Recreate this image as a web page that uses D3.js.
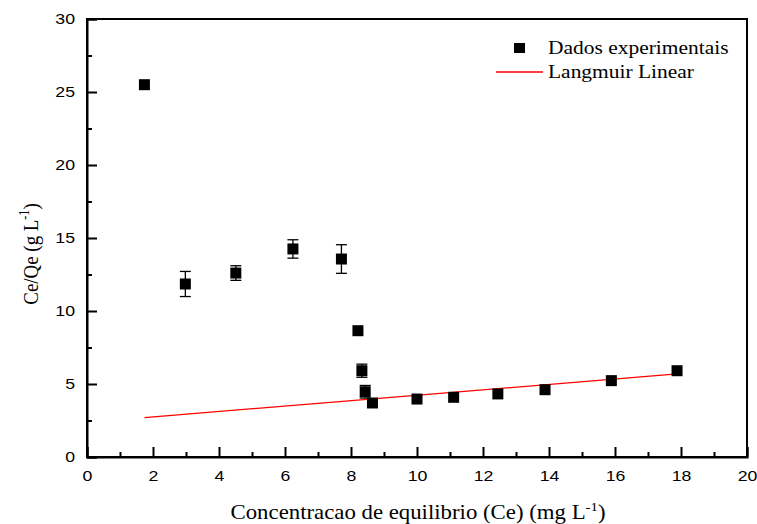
<!DOCTYPE html>
<html>
<head>
<meta charset="utf-8">
<script src="https://cdn.jsdelivr.net/npm/d3@7"></script>
<style>
  body { margin: 0; background: #fff; }
  svg { display: block; }
</style>
</head>
<body>
<div id="chart"></div>
<script>
// experimental points (Ce, Ce/Qe) and error bar half-widths
const ceValues = [1.74, 2.98, 4.51, 6.24, 7.71, 8.21, 8.33, 8.43, 8.65, 10.0, 11.11, 12.45, 13.88, 15.89, 17.88];
const ratioValues = [25.5, 11.85, 12.6, 14.25, 13.56, 8.65, 5.91, 4.47, 3.7, 3.97, 4.09, 4.32, 4.61, 5.23, 5.91];
const errorValues = [0, 0.86, 0.5, 0.63, 0.98, 0, 0.45, 0.43, 0, 0, 0, 0, 0, 0, 0];
// Langmuir linear fit endpoints
const fitX = [1.74, 17.88];
const fitY = [2.70, 5.69];
const xTicks = [0, 2, 4, 6, 8, 10, 12, 14, 16, 18, 20];
const yTicks = [0, 5, 10, 15, 20, 25, 30];

const width = 757, height = 524;
const margin = { left: 87, right: 10, top: 19, bottom: 67 };

const svg = d3.select("#chart").append("svg").attr("width", width).attr("height", height);

const x = d3.scaleLinear().domain([0, 20]).range([margin.left, width - margin.right]);
const y = d3.scaleLinear().domain([0, 30]).range([height - margin.bottom, margin.top]);

const tickFont = "'Liberation Sans', Arial, sans-serif";
const serif = "'Liberation Serif', 'Times New Roman', serif";
const stretch = 1.18; // the source picture is a bit wider than tall

// frame
svg.append("rect")
  .attr("x", x(0)).attr("y", y(30))
  .attr("width", x(20) - x(0)).attr("height", y(0) - y(30))
  .attr("fill", "none").attr("stroke", "#000").attr("stroke-width", 2);

// bottom axis, ticks pointing inward
svg.append("g").attr("class", "xa").attr("transform", `translate(0,${y(0)})`)
  .call(d3.axisBottom(x).tickValues(xTicks).tickSize(-10).tickPadding(13).tickFormat(d3.format("d")));
svg.append("g").attr("transform", `translate(0,${y(0)})`)
  .call(d3.axisBottom(x).tickValues(d3.range(1, 20, 2)).tickSize(-5).tickFormat(""))
  .call(g => g.select(".domain").remove());

svg.append("g").attr("class", "ya").attr("transform", `translate(${x(0)},0)`)
  .call(d3.axisLeft(y).tickValues(yTicks).tickSize(-10).tickPadding(12).tickFormat(d3.format("d")));
svg.append("g").attr("transform", `translate(${x(0)},0)`)
  .call(d3.axisLeft(y).tickValues(d3.range(2.5, 30, 5)).tickSize(-5).tickFormat(""))
  .call(g => g.select(".domain").remove());

svg.selectAll(".domain").attr("stroke-width", 2);
svg.selectAll(".tick line").attr("stroke", "#000").attr("stroke-width", 2);
svg.selectAll(".tick text").attr("font-family", tickFont).attr("font-size", 15).attr("fill", "#000")
  .attr("transform", `scale(${stretch},1)`);
svg.selectAll(".ya .tick text").attr("x", -12 / stretch);

// fitted line
svg.append("line")
  .attr("x1", x(fitX[0])).attr("y1", y(fitY[0]))
  .attr("x2", x(fitX[1])).attr("y2", y(fitY[1]))
  .attr("stroke", "#ff0000").attr("stroke-width", 1.3);

// error bars
const points = ceValues.map((c, i) => ({ x: c, y: ratioValues[i], e: errorValues[i] }));
const eb = svg.append("g").attr("stroke", "#000").attr("stroke-width", 1.3);
points.filter(d => d.e > 0).forEach(d => {
  eb.append("line").attr("x1", x(d.x)).attr("x2", x(d.x)).attr("y1", y(d.y - d.e)).attr("y2", y(d.y + d.e));
  [d.y - d.e, d.y + d.e].forEach(v => {
    eb.append("line").attr("x1", x(d.x) - 5.5).attr("x2", x(d.x) + 5.5).attr("y1", y(v)).attr("y2", y(v));
  });
});

// markers
const s = 11;
svg.append("g").selectAll("rect").data(points).enter().append("rect")
  .attr("x", d => x(d.x) - s / 2).attr("y", d => y(d.y) - s / 2)
  .attr("width", s).attr("height", s).attr("fill", "#000");

// legend
svg.append("rect").attr("x", 514).attr("y", 43).attr("width", 11).attr("height", 10).attr("fill", "#000");
svg.append("text").attr("transform", "translate(548,54) scale(1.13,1)")
  .attr("font-family", serif).attr("font-size", 19).text("Dados experimentais");
svg.append("line").attr("x1", 496).attr("x2", 543).attr("y1", 72).attr("y2", 72)
  .attr("stroke", "#ff0000").attr("stroke-width", 1.3);
svg.append("text").attr("transform", "translate(548,78) scale(1.13,1)")
  .attr("font-family", serif).attr("font-size", 19).text("Langmuir Linear");

// axis titles
const xt = svg.append("text").attr("transform", "translate(418,519) scale(1.14,1)")
  .attr("text-anchor", "middle").attr("font-family", serif).attr("font-size", 20);
xt.append("tspan").text("Concentracao de equilibrio (Ce) (mg L");
xt.append("tspan").attr("dy", -8).attr("font-size", 13).text("-1");
xt.append("tspan").attr("dy", 8).text(")");

const yt = svg.append("text").attr("transform", "translate(38,254) rotate(-90) scale(0.86,1)")
  .attr("text-anchor", "middle").attr("font-family", serif).attr("font-size", 22);
yt.append("tspan").text("Ce/Qe (g L");
yt.append("tspan").attr("dy", -9).attr("font-size", 14).text("-1");
yt.append("tspan").attr("dy", 9).text(")");
</script>
</body>
</html>
